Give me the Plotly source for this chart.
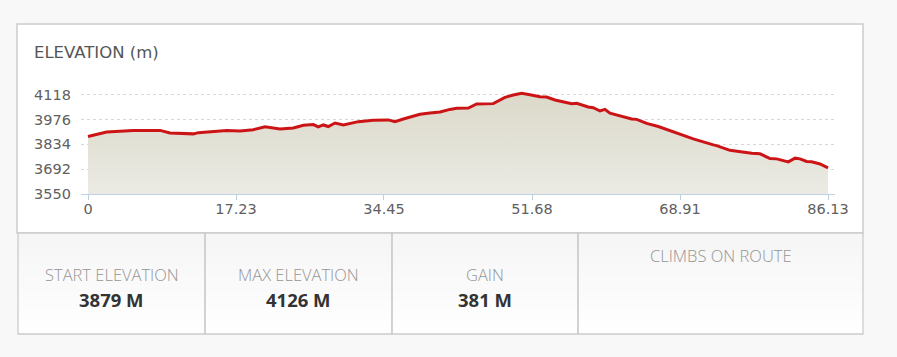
import plotly.graph_objects as go

# ---------------- data ----------------
distance_km = [0, 2.17, 5.27, 8.38, 9.54, 12.26, 12.84, 14.58, 16.14, 17.69, 19.24, 20.6,
               22.35, 23.9, 25.07, 26.23, 26.8, 27.39, 27.97, 28.75, 29.72, 31.46, 33.2,
               34.95, 35.73, 36.7, 38.64, 39.8, 40.97, 42.13, 42.91, 44.27, 45.24, 47.17,
               48.53, 49.5, 50.47, 51.44, 52.6, 53.38, 54.35, 56.3, 56.87, 58.23, 58.81,
               59.59, 60.17, 60.75, 62.3, 63.28, 63.86, 65.02, 66.38, 68.12, 70.45, 72.78,
               73.16, 74.72, 75.69, 77.24, 78.21, 79.38, 80.16, 81.51, 82.29, 82.87, 83.64,
               84.22, 85.2, 85.97, 86.13]
elevation_m = [3879, 3905, 3914, 3914, 3899, 3894, 3901, 3909, 3913, 3911, 3918, 3934,
               3922, 3928, 3943, 3947, 3934, 3945, 3936, 3956, 3945, 3964, 3972,
               3974, 3964, 3979, 4006, 4013, 4019, 4034, 4040, 4042, 4065, 4067,
               4103, 4116, 4126, 4118, 4107, 4105, 4088, 4067, 4069, 4048, 4044,
               4025, 4034, 4012, 3993, 3979, 3977, 3954, 3936, 3905, 3865, 3831,
               3827, 3800, 3793, 3783, 3780, 3753, 3751, 3734, 3755, 3751, 3736,
               3734, 3722, 3703, 3700]

x_tick_vals = [0, 17.23, 34.45, 51.68, 68.91, 86.13]
x_tick_text = ["0", "17.23", "34.45", "51.68", "68.91", "86.13"]
y_tick_vals = [3550, 3692, 3834, 3976, 4118]
y_tick_text = ["3550", "3692", "3834", "3976", "4118"]

chart_title = "ELEVATION (m)"
stat_labels = ["START ELEVATION", "MAX ELEVATION", "GAIN", "CLIMBS ON ROUTE"]
stat_values = ["3879 M", "4126 M", "381 M", ""]

# ---------------- layout geometry (pixels) ----------------
W, H = 897, 357
ML, MR, MT, MB = 81, 62, 90, 163
PW, PH = W - ML - MR, H - MT - MB


def px(xp):
    return (xp - ML) / PW


def py(yp):
    return (H - MB - yp) / PH


fig = go.Figure()
fig.add_trace(go.Scatter(
    x=distance_km, y=elevation_m, mode="lines",
    line=dict(color="#cc1417", width=3),
    fill="tozeroy",
    fillgradient=dict(type="vertical", start=3550, stop=4126,
                      colorscale=[[0, "rgb(235,234,228)"], [1, "rgb(219,217,201)"]]),
    hoverinfo="skip", showlegend=False,
))

shapes = []
# white chart panel
shapes.append(dict(type="rect", xref="paper", yref="paper",
                   x0=px(17), x1=px(863), y0=py(233), y1=py(24),
                   fillcolor="white", line=dict(color="#cccccc", width=1.5), layer="below"))
# table cells background with subtle vertical gradient
cells = [(18, 205), (205, 392), (392, 578), (578, 863)]
top, bot = 233, 334
n = 12
for i in range(n):
    t = i / (n - 1)
    c = int(246 + (255 - 246) * t)
    y0 = top + (bot - top) * i / n
    y1 = top + (bot - top) * (i + 1) / n
    shapes.append(dict(type="rect", xref="paper", yref="paper",
                       x0=px(18), x1=px(863), y0=py(y1), y1=py(y0),
                       fillcolor=f"rgb({c},{c},{c})", line=dict(width=0), layer="below"))
for (a, b) in cells:
    shapes.append(dict(type="rect", xref="paper", yref="paper",
                       x0=px(a), x1=px(b), y0=py(bot), y1=py(top),
                       fillcolor="rgba(0,0,0,0)", line=dict(color="#cccccc", width=1.3),
                       layer="above"))

annotations = [dict(text=chart_title, xref="paper", yref="paper", x=px(32), y=py(53),
                    xanchor="left", yanchor="middle", showarrow=False,
                    font=dict(family="DejaVu Sans", size=16.5, color="#555555"))]
for i, (a, b) in enumerate(cells):
    cx = (a + b) / 2
    if stat_values[i]:
        annotations.append(dict(text=stat_labels[i], xref="paper", yref="paper",
                                x=px(cx), y=py(274), xanchor="center", yanchor="middle",
                                showarrow=False,
                                font=dict(family="Open Sans", size=16.5, color="#959595", weight=300)))
        annotations.append(dict(text=stat_values[i], xref="paper", yref="paper",
                                x=px(cx), y=py(299.5), xanchor="center", yanchor="middle",
                                showarrow=False,
                                font=dict(family="Open Sans", size=18.5, color="#333333", weight=700)))
    else:
        annotations.append(dict(text=stat_labels[i], xref="paper", yref="paper",
                                x=px(cx), y=py(255), xanchor="center", yanchor="middle",
                                showarrow=False,
                                font=dict(family="Open Sans", size=16.5, color="#959595", weight=300)))

x_per_px = 86.13 / (828 - 88)
fig.update_layout(
    width=W, height=H,
    margin=dict(l=ML, r=MR, t=MT, b=MB, pad=0),
    paper_bgcolor="#f8f8f8", plot_bgcolor="rgba(0,0,0,0)",
    shapes=shapes, annotations=annotations,
    xaxis=dict(range=[-(88 - ML) * x_per_px, 86.13 + (835 - 828) * x_per_px],
               tickvals=x_tick_vals, ticktext=x_tick_text,
               showgrid=False, zeroline=False,
               showline=True, linecolor="#c0d0e0", linewidth=1,
               ticks="outside", ticklen=5, tickcolor="#c0d0e0", tickwidth=1,
               ticklabelstandoff=-3,
               tickfont=dict(family="DejaVu Sans", size=14.5, color="#606060"),
               fixedrange=True),
    yaxis=dict(range=[3550, 4145], tickvals=y_tick_vals, ticktext=y_tick_text,
               showgrid=True, gridcolor="#d8d8d8", griddash="3px,3px", gridwidth=1,
               zeroline=False, showline=False, ticks="",
               ticklabelstandoff=9,
               tickfont=dict(family="DejaVu Sans", size=14.5, color="#606060"),
               fixedrange=True),
)

fig.write_html("out.html", config={"displayModeBar": False},
               post_script="document.body.style.margin='0';document.body.style.background='#f8f8f8';document.body.style.overflow='hidden';")
